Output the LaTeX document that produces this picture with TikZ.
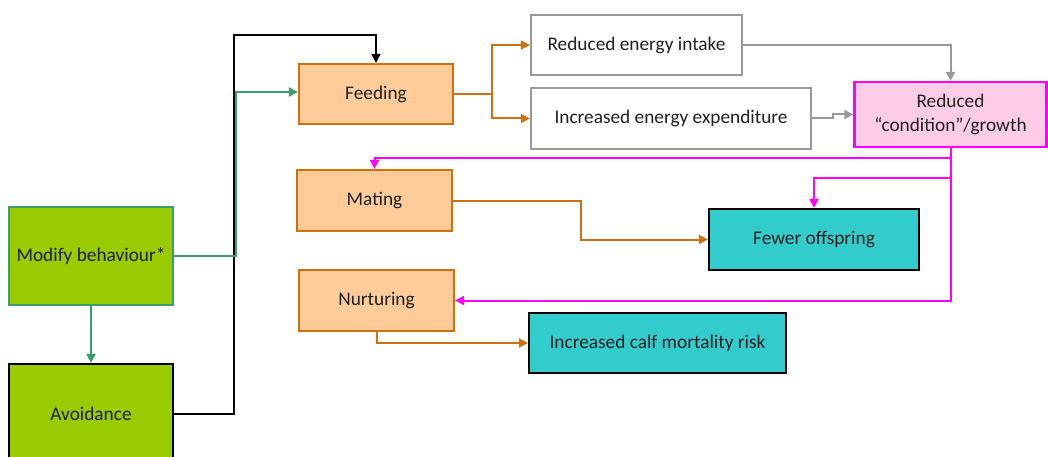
\documentclass[tikz,border=0pt]{standalone}
\usepackage{fontspec}
\setmainfont{Carlito}
\usetikzlibrary{arrows.meta,calc}

\definecolor{txt}{HTML}{202020}
\definecolor{orgline}{HTML}{D0700E}
\definecolor{orgfill}{HTML}{FFCC99}
\definecolor{lime}{HTML}{99CC00}
\definecolor{seagreen}{HTML}{3A9E6E}
\definecolor{teal}{HTML}{33CCCC}
\definecolor{greyline}{HTML}{999999}
\definecolor{magenta}{HTML}{FF00FF}
\definecolor{pinkfill}{HTML}{FFCCE8}

\tikzset{
  basebox/.style={rectangle, line width=2.2pt, inner sep=0pt, align=center,
    text=txt, font=\fontsize{19.3}{24}\selectfont},
  activity/.style={basebox, draw=orgline, fill=orgfill},
  behaviour/.style={basebox, fill=lime},
  effect/.style={basebox, draw=greyline, fill=white},
  outcome/.style={basebox, draw=black, fill=teal},
  condbox/.style={basebox, draw=magenta, fill=pinkfill},
  link/.style={line width=2pt, -{Triangle[length=9pt,width=9pt]}},
}

\begin{document}
\begin{tikzpicture}[x=1pt,y=-1pt]
\useasboundingbox (0,0) rectangle (1048,457);

% behaviour boxes on the left
\node[behaviour, draw=seagreen, minimum width=164, minimum height=98] (modify) at (91,256) {Modify behaviour*};
\node[behaviour, draw=black, minimum width=164, minimum height=100] (avoid) at (91,414) {Avoidance};

% activities
\node[activity, minimum width=154, minimum height=60] (feed) at (376,94) {Feeding};
\node[activity, minimum width=155, minimum height=61] (mating) at (374.5,200.5) {Mating};
\node[activity, minimum width=155, minimum height=61] (nurt) at (376.5,300.5) {Nurturing};

% energetic effects
\node[effect, minimum width=211, minimum height=60] (intake) at (636.5,45) {Reduced energy intake};
\node[effect, minimum width=280, minimum height=61] (expend) at (671,118.5) {Increased energy expenditure};
\node[condbox, minimum width=192, minimum height=65] (cond) at (950.5,114.5) {Reduced\\“condition”/growth};

% population outcomes
\node[outcome, minimum width=210, minimum height=61] (fewer) at (814,239.5) {Fewer offspring};
\node[outcome, minimum width=257, minimum height=60] (calf) at (657.5,343) {Increased calf mortality risk};

% junction points
\coordinate (bj) at (233.5,35);
\coordinate (gj) at (236,92);
\coordinate (oj) at (492,94);
\coordinate (mk) at (581,200.5);

% behaviour to feeding
\draw[link, draw=black] (avoid.east) -| (bj) -| (feed.north);
\draw[link, draw=seagreen] (modify.east) -| (gj) -- (gj -| feed.west);
\draw[link, draw=seagreen] (modify.south) -- (avoid.north);

% feeding to energetic effects
\draw[line width=2pt, draw=orgline] (feed.east) -- (oj);
\draw[link, draw=orgline] (oj) |- (intake.west);
\draw[link, draw=orgline] (oj) |- (expend.west);

% energetic effects to condition
\draw[link, draw=greyline] (intake.east) -| (cond.north);
\draw[link, draw=greyline] (expend.east) -- ++(21,0) |- (cond.west);

% condition to reproduction
\draw[link, draw=magenta] (cond.south) |- (nurt.east);
\draw[link, draw=magenta] (cond.south |- 0,158) -| (mating.north);
\draw[link, draw=magenta] (cond.south |- 0,178) -| (fewer.north);

% reproduction to outcomes
\draw[link, draw=orgline] (mating.east) -- (mk) |- (fewer.west);
\draw[link, draw=orgline] (nurt.south) |- (calf.west);
\end{tikzpicture}
\end{document}
